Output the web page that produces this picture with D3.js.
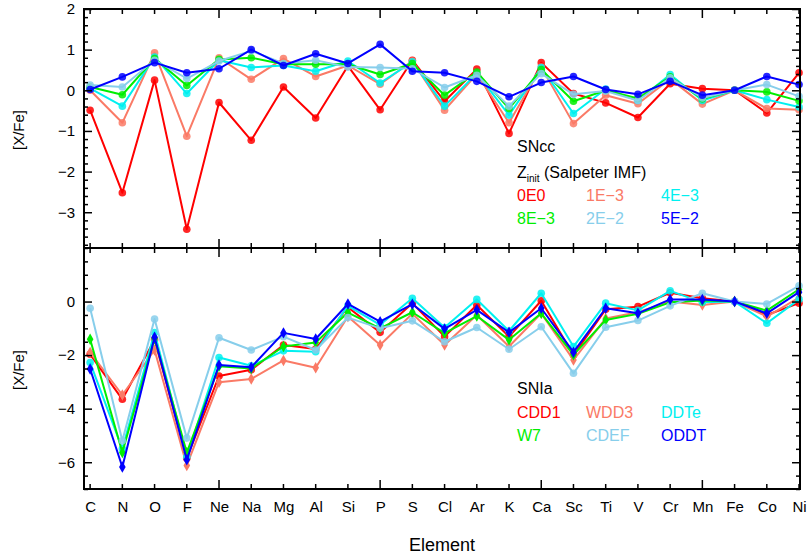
<!DOCTYPE html>
<html>
<head>
<meta charset="utf-8">
<script src="https://cdn.jsdelivr.net/npm/d3@7"></script>
<style>
  body { margin: 0; background: #fff; }
  text { font-family: "Liberation Sans", Arial, sans-serif; }
</style>
</head>
<body>
<div id="chart"></div>
<script>
// ===========================================================
// DATA
// ===========================================================
var elements = ["C","N","O","F","Ne","Na","Mg","Al","Si","P","S","Cl","Ar","K","Ca","Sc","Ti","V","Cr","Mn","Fe","Co","Ni"];
var atomicNumbers = [6,7,8,9,10,11,12,13,14,15,16,17,18,19,20,21,22,23,24,25,26,27,28];

// SNcc, Zinit (Salpeter IMF)
var snccNames = ["0E0", "1E\u22123", "4E\u22123", "8E\u22123", "2E\u22122", "5E\u22122"];
var sncc0E0  = [-0.49,-2.52, 0.25,-3.42,-0.30,-1.23, 0.08,-0.68, 0.60,-0.48, 0.74,-0.27, 0.52,-1.06, 0.68,-0.08,-0.31,-0.67, 0.16, 0.04, 0.00,-0.56, 0.43];
var sncc1E3  = [ 0.00,-0.80, 0.92,-1.13, 0.80, 0.27, 0.78, 0.34, 0.61, 0.15, 0.72,-0.49, 0.40,-0.80, 0.57,-0.82,-0.12,-0.33, 0.28,-0.34, 0.00,-0.45,-0.48];
var sncc4E3  = [ 0.05,-0.39, 0.82,-0.08, 0.74, 0.56, 0.61, 0.47, 0.72, 0.18, 0.70,-0.39, 0.42,-0.61, 0.56,-0.57, 0.03,-0.25, 0.39,-0.25, 0.00,-0.23,-0.41];
var sncc8E3  = [ 0.08,-0.11, 0.78, 0.12, 0.76, 0.80, 0.64, 0.64, 0.64, 0.39, 0.66,-0.12, 0.45,-0.45, 0.51,-0.27, 0.00,-0.20, 0.33,-0.21, 0.00,-0.04,-0.26];
var sncc2E2  = [ 0.13, 0.08, 0.74, 0.29, 0.72, 0.97, 0.66, 0.74, 0.57, 0.56, 0.53, 0.07, 0.37,-0.39, 0.41,-0.10,-0.02,-0.25, 0.31,-0.19, 0.00, 0.14,-0.15];
var sncc5E2  = [ 0.02, 0.33, 0.68, 0.43, 0.53, 1.00, 0.61, 0.90, 0.66, 1.13, 0.47, 0.43, 0.22,-0.16, 0.19, 0.34, 0.02,-0.10, 0.22,-0.12, 0.00, 0.34, 0.14];

// SNIa models
var sniaNames = ["CDD1", "WDD3", "DDTe", "W7", "CDEF", "ODDT"];
var sniaCDD1 = [-1.97,-3.65,-1.43,-5.85,-2.78,-2.55,-1.62,-1.77,-0.21,-1.15,-0.06,-1.31,-0.13,-1.31, 0.03,-2.00,-0.29,-0.19, 0.33, 0.12, 0.00,-0.50,-0.06];
var sniaWDD3 = [-1.90,-3.49,-1.81,-6.12,-3.01,-2.89,-2.20,-2.47,-0.56,-1.62,-0.45,-1.62,-0.50,-1.68,-0.44,-2.18,-0.63,-0.40, 0.00,-0.13, 0.00,-0.56, 0.15];
var sniaDDTe = [-2.28,-5.50,-1.16,-5.80,-2.09,-2.40,-1.84,-1.87,-0.16,-0.87, 0.12,-0.97, 0.08,-1.10, 0.31,-1.68,-0.06,-0.33, 0.40,-0.03, 0.00,-0.81, 0.08];
var sniaW7   = [-1.41,-5.64,-1.37,-5.64,-2.42,-2.50,-1.68,-1.53,-0.41,-1.00,-0.40,-1.18,-0.54,-1.43,-0.44,-1.99,-0.69,-0.46,-0.03, 0.04, 0.00,-0.34, 0.46];
var sniaCDEF = [-0.25,-5.20,-0.65,-5.10,-1.35,-1.81,-1.31,-1.81,-0.60,-1.00,-0.72,-1.50,-0.97,-1.78,-0.94,-2.68,-0.96,-0.71,-0.16, 0.31, 0.00,-0.09, 0.59];
var sniaODDT = [-2.52,-6.18,-1.33,-5.91,-2.37,-2.45,-1.17,-1.40,-0.09,-0.75,-0.10,-1.02,-0.31,-1.15,-0.25,-1.89,-0.25,-0.44, 0.08, 0.08, 0.00,-0.44, 0.35];

var seriesColors = ["#ff0000", "#fa7a66", "#00f0f0", "#00ee00", "#87ceeb", "#0000ff"];

var topTicks = [-3, -2, -1, 0, 1, 2];
var bottomTicks = [-6, -4, -2, 0];

// ===========================================================
// SET MARGINS
// ===========================================================
var svgWidth = 809;
var svgHeight = 556;

var plotLeft = 84;
var plotRight = 800;
var topPanel = {top: 9, bottom: 248};
var bottomPanel = {top: 248, bottom: 489};

var svg = d3.select('#chart')
    .append('svg')
    .attr('width', svgWidth)
    .attr('height', svgHeight);

// ===========================================================
// SCALES
// ===========================================================
var x = d3.scaleLinear()
    .domain([5.81, 28.03])
    .range([plotLeft, plotRight]);

var yTop = d3.scaleLinear()
    .domain([-3.88, 2])
    .range([topPanel.bottom, topPanel.top]);

var yBottom = d3.scaleLinear()
    .domain([-7, 2])
    .range([bottomPanel.bottom, bottomPanel.top]);

var majorZ = [10, 15, 20, 25];

// ===========================================================
// AXES
// ===========================================================
function drawAxes(y, majorTicks, minorStep, showXLabels) {
    var y0 = y.range()[1], y1 = y.range()[0];
    var dom = y.domain();
    var minorTicks = d3.range(Math.ceil(dom[0] / minorStep) * minorStep, dom[1] + 1e-6, minorStep)
        .filter(function(v) { return !majorTicks.some(function(m) { return Math.abs(m - v) < 1e-6; }); });

    var g = svg.append('g');

    // left
    g.append('g').attr('transform', 'translate(' + plotLeft + ',0)')
        .call(d3.axisLeft(y).tickValues(majorTicks).tickSize(-8).tickPadding(9)
            .tickFormat(function(d) { return d < 0 ? "\u2212" + Math.abs(d) : d; }));
    g.append('g').attr('transform', 'translate(' + plotLeft + ',0)')
        .call(d3.axisLeft(y).tickValues(minorTicks).tickSize(-4).tickFormat(""));
    // right
    g.append('g').attr('transform', 'translate(' + plotRight + ',0)')
        .call(d3.axisRight(y).tickValues(majorTicks).tickSize(-8).tickFormat(""));
    g.append('g').attr('transform', 'translate(' + plotRight + ',0)')
        .call(d3.axisRight(y).tickValues(minorTicks).tickSize(-4).tickFormat(""));
    // bottom
    var bottomAxis = d3.axisBottom(x).tickValues(atomicNumbers)
        .tickSize(0).tickPadding(12)
        .tickFormat(function(d, i) { return showXLabels ? elements[i] : ""; });
    g.append('g').attr('transform', 'translate(0,' + y1 + ')').call(bottomAxis);
    // top
    g.append('g').attr('transform', 'translate(0,' + y0 + ')')
        .call(d3.axisTop(x).tickValues(atomicNumbers).tickSize(0).tickFormat(""));

    // inward x ticks
    [y0, y1].forEach(function(yy, k) {
        var dir = k === 0 ? 1 : -1;
        g.append('g').selectAll('line')
            .data(atomicNumbers)
            .enter()
            .append('line')
            .attr('x1', function(d) { return x(d); })
            .attr('x2', function(d) { return x(d); })
            .attr('y1', yy)
            .attr('y2', function(d) { return yy + dir * (majorZ.indexOf(d) >= 0 ? 9 : 5); })
            .attr('stroke', '#000')
            .attr('stroke-width', 1.5);
    });

    g.selectAll('.domain').remove();
    g.selectAll('.tick line').attr('stroke', '#000').attr('stroke-width', 1.5);
    g.selectAll('.tick text').attr('fill', '#000').style('font-size', '15px')
        .style('font-family', '"Liberation Sans", Arial, sans-serif');

    g.append('rect')
        .attr('x', plotLeft).attr('y', y0)
        .attr('width', plotRight - plotLeft).attr('height', y1 - y0)
        .attr('fill', 'none').attr('stroke', '#000').attr('stroke-width', 2);
}

// ===========================================================
// SERIES
// ===========================================================
function drawSeries(y, seriesList, symbols, clipId) {
    var line = d3.line()
        .x(function(d, i) { return x(atomicNumbers[i]); })
        .y(function(d) { return y(d); });

    seriesList.forEach(function(values, s) {
        var g = svg.append('g');
        g.append('path')
            .attr('d', line(values))
            .attr('fill', 'none')
            .attr('stroke', seriesColors[s])
            .attr('stroke-width', 2)
            .attr('stroke-linejoin', 'round');

        if (symbols[s] === 'circle') {
            g.selectAll('circle')
                .data(values)
                .enter()
                .append('circle')
                .attr('cx', function(d, i) { return x(atomicNumbers[i]); })
                .attr('cy', function(d) { return y(d); })
                .attr('r', 3.8)
                .attr('fill', seriesColors[s])
                .attr('fill-opacity', 0.85);
        } else {
            g.selectAll('path.sym')
                .data(values)
                .enter()
                .append('path')
                .attr('class', 'sym')
                .attr('d', d3.symbol().type(d3.symbolDiamond).size(38))
                .attr('transform', function(d, i) { return 'translate(' + x(atomicNumbers[i]) + ',' + y(d) + ')'; })
                .attr('fill', seriesColors[s]);
        }
    });
}

drawSeries(yTop, [sncc0E0, sncc1E3, sncc4E3, sncc8E3, sncc2E2, sncc5E2],
    ['circle', 'circle', 'circle', 'circle', 'circle', 'circle']);
drawSeries(yBottom, [sniaCDD1, sniaWDD3, sniaDDTe, sniaW7, sniaCDEF, sniaODDT],
    ['circle', 'diamond', 'circle', 'diamond', 'circle', 'diamond']);

drawAxes(yTop, topTicks, 0.2, false);
drawAxes(yBottom, bottomTicks, 0.5, true);

// ===========================================================
// LEGENDS
// ===========================================================
var legendCols = [517, 586, 661];

svg.append('text').attr('x', 517).attr('y', 152).text('SNcc').style('font-size', '16px');
var zt = svg.append('text').attr('x', 517).attr('y', 178).style('font-size', '16px');
zt.append('tspan').text('Z');
zt.append('tspan').attr('dy', 4).style('font-size', '10px').text('init');
zt.append('tspan').attr('dy', -4).text(' (Salpeter IMF)');

snccNames.forEach(function(name, i) {
    svg.append('text')
        .attr('x', legendCols[i % 3])
        .attr('y', 201 + Math.floor(i / 3) * 23)
        .text(name)
        .attr('fill', seriesColors[i])
        .style('font-size', '16px');
});

svg.append('text').attr('x', 517).attr('y', 394).text('SNIa').style('font-size', '16px');
sniaNames.forEach(function(name, i) {
    svg.append('text')
        .attr('x', legendCols[i % 3])
        .attr('y', 418 + Math.floor(i / 3) * 23)
        .text(name)
        .attr('fill', seriesColors[i])
        .style('font-size', '16px');
});

// ===========================================================
// AXIS TITLES
// ===========================================================
svg.append('text')
    .attr('x', 442).attr('y', 551)
    .attr('text-anchor', 'middle')
    .text('Element')
    .style('font-size', '18px');

[[130], [370]].forEach(function(p) {
    svg.append('text')
        .attr('transform', 'translate(24,' + p[0] + ') rotate(-90)')
        .attr('text-anchor', 'middle')
        .text('[X/Fe]')
        .style('font-size', '15px');
});
</script>
</body>
</html>
